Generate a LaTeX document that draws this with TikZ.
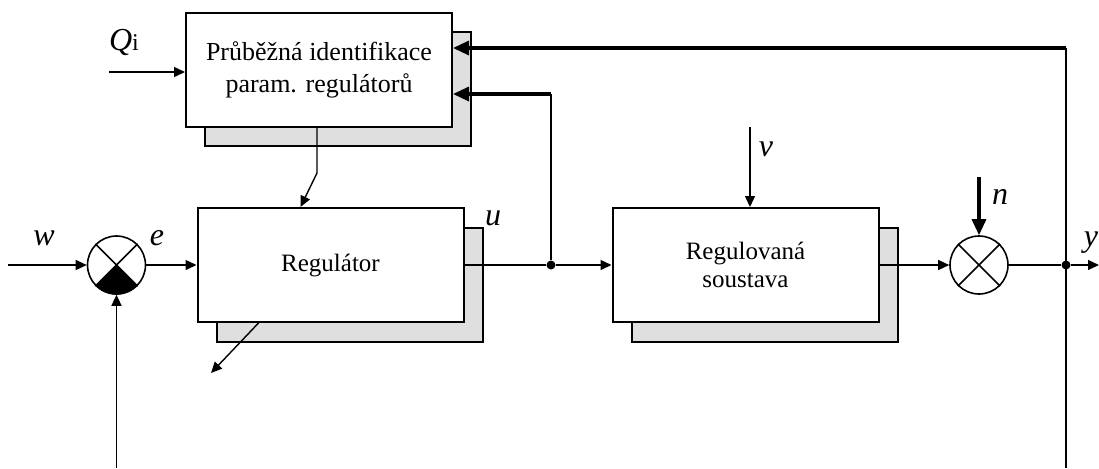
\documentclass[tikz,border=0pt]{standalone}
\usepackage{fontspec}
\setmainfont{Liberation Serif}
\usetikzlibrary{arrows.meta}
\tikzstyle{blok} = [draw,line width=1pt,fill=white,minimum width=133pt,minimum height=57pt,inner sep=0pt,align=center,font=\fontsize{12.5}{14}\selectfont]
\tikzstyle{stin} = [blok,fill=gray!25]
\tikzstyle{suma} = [draw,circle,line width=0.8pt,minimum size=29pt,inner sep=0pt]
\tikzstyle{uzel} = [circle,fill,inner sep=0pt,minimum size=4.5pt]
\tikzstyle{spoj} = [draw,line width=0.7pt]
\tikzstyle{sig} = [spoj,-{Triangle[length=5.5pt,width=5pt]}]
\tikzstyle{sigb} = [draw,line width=1.6pt,-{Triangle[length=8pt,width=7pt]}]
\tikzstyle{lab} = [inner sep=0pt,font=\fontsize{16}{16}\selectfont\itshape]

\begin{document}
\begin{tikzpicture}[x=0.5pt,y=-0.5pt]
    \useasboundingbox (0,0) rectangle (1099,468);

    % bloky se stinem
    \node[stin] (identS) at (338,89) {};
    \node[blok,font=\fontsize{13}{16}\selectfont] (ident) at (319,70) {Průběžná identifikace\\param. regulátorů};
    \node[stin] (regS) at (350,285) {};
    \node[blok] (reg) at (330.5,265) {Regulátor};
    \node[stin] (plantS) at (765,285) {};
    \node[blok] (plant) at (745.5,265) {Regulovaná\\soustava};

    % souctove cleny
    \node[suma] (sum1) at (116.5,265) {};
    \node[suma] (sum2) at (979,265) {};
    \fill (sum1.center) -- (sum1.225) -- (sum1.240) -- (sum1.255) -- (sum1.270)
        -- (sum1.285) -- (sum1.300) -- (sum1.315) -- cycle;
    \draw[line width=0.8pt] (sum1.north west) -- (sum1.south east) (sum1.north east) -- (sum1.south west);
    \draw[line width=0.8pt] (sum2.north west) -- (sum2.south east) (sum2.north east) -- (sum2.south west);

    \node[uzel] (j1) at (551,265) {};
    \node[uzel] (j2) at (1066,265) {};

    \coordinate (win) at (8,265);
    \coordinate (yout) at (1099,265);
    \coordinate (fb1) at (116.5,468);
    \coordinate (fb2) at (1066,468);
    \coordinate (tc1) at (551,94);
    \coordinate (tc2) at (1066,48);
    \coordinate (qin) at (109,72);
    \coordinate (vin) at (750,127);
    \coordinate (nin) at (979,177);
    \coordinate (kink) at (317,173);
    \coordinate (par) at (211,373);

    % signaly
    \draw[sig] (win) -- (sum1);
    \draw[sig] (sum1) -- (reg);
    \draw[sig] (fb1) -- (sum1);
    \draw[spoj] (reg.east) -- (j1);
    \draw[sig] (j1) -- (plant);
    \draw[spoj] (j1) -- (tc1);
    \draw[sigb] (tc1) -- (tc1 -| ident.east);
    \draw[sig] (plant) -- (sum2);
    \draw[spoj] (sum2) -- (j2);
    \draw[sig] (j2) -- (yout);
    \draw[spoj] (fb2) -- (tc2);
    \draw[sigb] (tc2) -- (tc2 -| ident.east);
    \draw[sig] (qin) -- (qin -| ident.west);
    \draw[sig] (vin) -- (vin |- plant.north);
    \draw[sigb] (nin) -- (sum2);
    \draw[sig] ([xshift=-1pt]ident.south) -- (kink) -- ([xshift=-15pt]reg.north);
    \draw[sig] ([xshift=-36pt]reg.south) -- (par);

    % popisky
    \node[lab] (Ql) at (124,42) {Q{\upshape\fontsize{12}{12}\selectfont i}};
    \node[lab] (wl) at (44,238) {w};
    \node[lab] (el) at (157,238) {e};
    \node[lab] (ul) at (493,218) {u};
    \node[lab] (vl) at (766,149) {v};
    \node[lab] (nl) at (1000,197) {n};
    \node[lab] (yl) at (1091,243) {y};

\end{tikzpicture}
\end{document}
